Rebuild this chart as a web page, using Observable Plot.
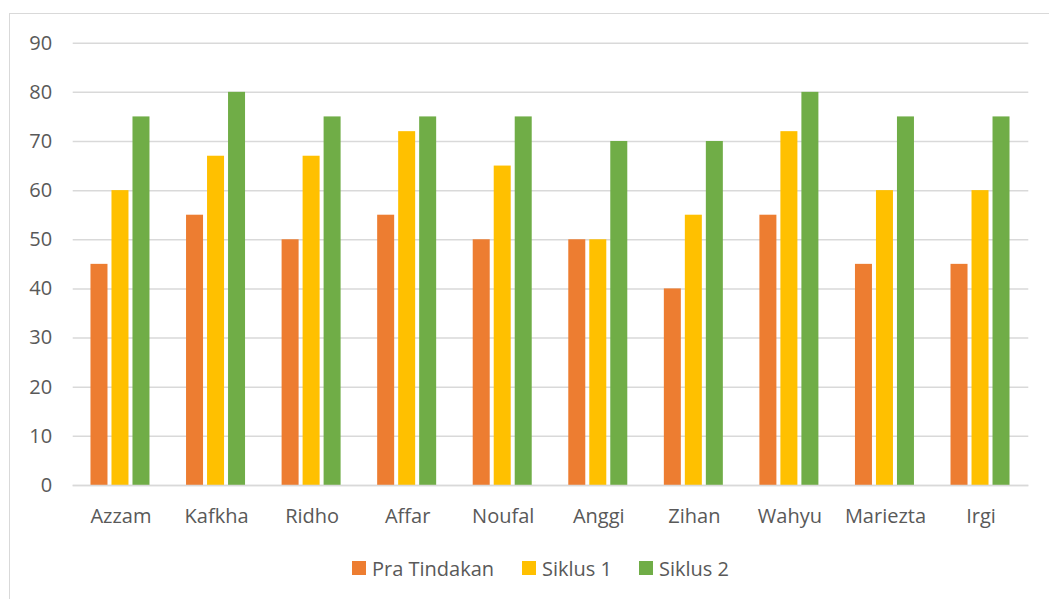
<!DOCTYPE html>
<html>
<head>
<meta charset="utf-8">
<script src="https://cdn.jsdelivr.net/npm/d3@7"></script>
<script src="https://cdn.jsdelivr.net/npm/@observablehq/plot@0.6"></script>
<style>
  html, body { margin: 0; padding: 0; background: #fff; }
  #wrap { position: relative; width: 1049px; height: 599px; overflow: hidden; font-family: "Open Sans", sans-serif; }
  #frame { position: absolute; left: 9px; top: 13px; width: 1100px; height: 700px; border-left: 1.5px solid #D9D9D9; border-top: 1.5px solid #D9D9D9; box-sizing: border-box; }
  #chart { position: absolute; left: 0; top: 0; }
  .legend-item { position: absolute; top: 556px; display: flex; align-items: center; height: 24px; font-size: 20px; color: #595959; white-space: nowrap; }
  .legend-item span.sw { display: inline-block; width: 14px; height: 14px; margin-right: 6px; }
</style>
</head>
<body>
<div id="wrap">
  <div id="frame"></div>
  <div id="chart"></div>
</div>
<script>
const categories = ["Azzam", "Kafkha", "Ridho", "Affar", "Noufal", "Anggi", "Zihan", "Wahyu", "Mariezta", "Irgi"];
const praTindakan = [45, 55, 50, 55, 50, 50, 40, 55, 45, 45];
const siklus1 = [60, 67, 67, 72, 65, 50, 55, 72, 60, 60];
const siklus2 = [75, 80, 75, 75, 75, 70, 70, 80, 75, 75];
const seriesNames = ["Pra Tindakan", "Siklus 1", "Siklus 2"];
const yTicks = [0, 10, 20, 30, 40, 50, 60, 70, 80, 90];

const colors = ["#ED7D31", "#FFC000", "#70AD47"];
const seriesValues = [praTindakan, siklus1, siklus2];
const offsets = [-21.5, -0.5, 20.5];
const barWidth = 17;
const step = (1028.3 - 72.7) / categories.length;
const pInner = 1 - barWidth / step;

const barMarks = seriesValues.map((vals, s) =>
  Plot.barY(categories.map((c, i) => ({category: c, value: vals[i]})), {
    x: "category", y: "value", fill: colors[s], dx: offsets[s]
  })
);

const chart = Plot.plot({
  width: 1049,
  height: 530,
  marginLeft: 72.7,
  marginRight: 1049 - 1028.3,
  marginTop: 42.7,
  marginBottom: 45,
  style: {fontFamily: "Open Sans, sans-serif", fontSize: "20px", color: "#595959", background: "transparent", overflow: "visible"},
  x: {domain: categories, paddingInner: pInner, paddingOuter: pInner / 2, round: false, label: null},
  y: {domain: [0, 90], label: null},
  marks: [
    Plot.ruleY(yTicks, {stroke: "#D9D9D9", strokeWidth: 1.5}),
    ...barMarks,
    Plot.ruleY([0], {stroke: "#D9D9D9", strokeWidth: 1.5}),
    Plot.axisY(yTicks, {tickSize: 0, tickPadding: 21, fill: "#595959", fontSize: 20, label: null}),
    Plot.axisX({tickSize: 0, tickPadding: 23, fill: "#595959", fontSize: 20, label: null})
  ]
});
document.getElementById("chart").appendChild(chart);

const legendX = [352, 522, 639];
const wrap = document.getElementById("wrap");
seriesNames.forEach((name, i) => {
  const item = document.createElement("div");
  item.className = "legend-item";
  item.style.left = legendX[i] + "px";
  const sw = document.createElement("span");
  sw.className = "sw";
  sw.style.background = colors[i];
  item.appendChild(sw);
  item.appendChild(document.createTextNode(name));
  wrap.appendChild(item);
});
</script>
</body>
</html>
